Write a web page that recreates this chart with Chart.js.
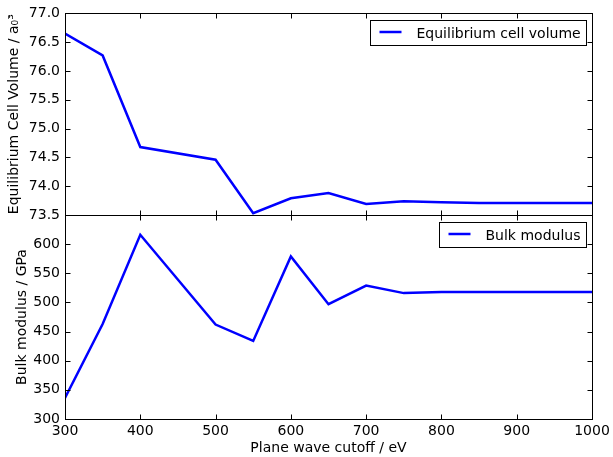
<!DOCTYPE html>
<html>
<head>
<meta charset="utf-8">
<script src="https://cdn.jsdelivr.net/npm/chart.js@4"></script>
<style>
  html, body { margin: 0; padding: 0; background: #fff; }
  #wrap { position: relative; width: 613px; height: 457px; overflow: hidden; }
  canvas { position: absolute; left: 0; }
  #volumeChart { top: 0; }
  #bulkChart { top: 200px; }
</style>
</head>
<body>
<div id="wrap">
  <canvas id="volumeChart" width="613" height="230"></canvas>
  <canvas id="bulkChart" width="613" height="257"></canvas>
</div>
<script>
// plane wave cutoff (eV)
var cutoffs = [300, 350, 400, 500, 550, 600, 650, 700, 750, 800, 850, 900, 950, 1000];
// equilibrium cell volume (a0^3)
var volume = [76.65, 76.27, 74.68, 74.46, 73.53, 73.79, 73.88, 73.69, 73.74, 73.72, 73.71, 73.71, 73.71, 73.71];
// bulk modulus (GPa)
var bulk = [336, 463, 616, 462, 434, 579, 497, 529, 516, 518, 518, 518, 518, 518];

var xTicks = [300, 400, 500, 600, 700, 800, 900, 1000];
var volumeTicks = [73.5, 74.0, 74.5, 75.0, 75.5, 76.0, 76.5, 77.0];
var bulkTicks = [300, 350, 400, 450, 500, 550, 600];

Chart.defaults.font.family = "'DejaVu Sans'";
Chart.defaults.font.size = 14;
Chart.defaults.color = "#000";

// box around the plot with inward ticks on all four sides
var frameTicks = {
    id: "frameTicks",
    afterDatasetsDraw: function (chart) {
        var ctx = chart.ctx, a = chart.chartArea;
        var xs = chart.scales.x, ys = chart.scales.y;
        var len = 5;
        var l = Math.round(a.left) + 0.5, r = Math.round(a.right) + 0.5;
        var t = Math.round(a.top) + 0.5, b = Math.round(a.bottom) + 0.5;
        ctx.save();
        ctx.strokeStyle = "#000";
        ctx.lineWidth = 1;
        ctx.beginPath();
        xs.ticks.forEach(function (tk) {
            var px = Math.round(xs.getPixelForValue(tk.value)) + 0.5;
            ctx.moveTo(px, b); ctx.lineTo(px, b - len);
            ctx.moveTo(px, t); ctx.lineTo(px, t + len);
        });
        ys.ticks.forEach(function (tk) {
            var py = Math.round(ys.getPixelForValue(tk.value)) + 0.5;
            ctx.moveTo(l, py); ctx.lineTo(l + len, py);
            ctx.moveTo(r, py); ctx.lineTo(r - len, py);
        });
        ctx.stroke();
        ctx.strokeRect(l, t, r - l, b - t);
        ctx.restore();
    }
};

// legend in a plain box at the top right of the plot
var boxLegend = {
    id: "boxLegend",
    afterDraw: function (chart) {
        var ctx = chart.ctx, a = chart.chartArea;
        var ds = chart.data.datasets[0];
        ctx.save();
        ctx.font = "14px 'DejaVu Sans'";
        var tw = ctx.measureText(ds.label).width;
        var w = 9 + 22 + 15 + tw + 6, h = 25;
        var right = Math.round(a.right) - 6 + 0.5;
        var top = Math.round(a.top) + 7 + 0.5;
        var left = right - Math.round(w);
        ctx.fillStyle = "#fff";
        ctx.fillRect(left, top, right - left, h);
        ctx.strokeStyle = "#000";
        ctx.lineWidth = 1;
        ctx.strokeRect(left, top, right - left, h);
        ctx.strokeStyle = ds.borderColor;
        ctx.lineWidth = ds.borderWidth;
        ctx.beginPath();
        ctx.moveTo(left + 9, top + h / 2 - 1);
        ctx.lineTo(left + 31, top + h / 2 - 1);
        ctx.stroke();
        ctx.fillStyle = "#000";
        ctx.textBaseline = "middle";
        ctx.fillText(ds.label, left + 46, top + h / 2 + 1);
        ctx.restore();
    }
};

function points(ys) {
    return cutoffs.map(function (c, i) { return { x: c, y: ys[i] }; });
}

function fixWidth(scale) { scale.width = 65; }

function fixHeight(h) {
    return function (scale) {
        scale.height = h;
        scale.paddingLeft = 0;
        scale.paddingRight = 0;
    };
}

var volumeChart = new Chart(document.getElementById("volumeChart"), {
    type: "line",
    data: {
        datasets: [{
            label: "Equilibrium cell volume",
            data: points(volume),
            borderColor: "#0000ff",
            borderWidth: 2.5,
            pointRadius: 0,
            tension: 0
        }]
    },
    options: {
        responsive: false,
        animation: false,
        devicePixelRatio: 1,
        layout: { padding: { top: 11, right: 21, bottom: 15, left: 0 } },
        plugins: { legend: { display: false }, tooltip: { enabled: false } },
        scales: {
            x: {
                type: "linear", min: 300, max: 1000,
                afterBuildTicks: function (s) { s.ticks = xTicks.map(function (v) { return { value: v }; }); },
                afterFit: fixHeight(0),
                ticks: { display: false },
                grid: { display: false, drawTicks: false },
                border: { display: false }
            },
            y: {
                min: 73.5, max: 77.0,
                afterBuildTicks: function (s) { s.ticks = volumeTicks.map(function (v) { return { value: v }; }); },
                afterFit: fixWidth,
                ticks: { padding: 5, callback: function (v) { return v.toFixed(1); } },
                grid: { display: false, drawTicks: false },
                border: { display: false },
                title: { display: true, text: "Equilibrium Cell Volume / a₀³", padding: { top: 6, bottom: 0 } }
            }
        }
    },
    plugins: [frameTicks, boxLegend]
});

var bulkChart = new Chart(document.getElementById("bulkChart"), {
    type: "line",
    data: {
        datasets: [{
            label: "Bulk modulus",
            data: points(bulk),
            borderColor: "#0000ff",
            borderWidth: 2.5,
            pointRadius: 0,
            tension: 0
        }]
    },
    options: {
        responsive: false,
        animation: false,
        devicePixelRatio: 1,
        layout: { padding: { top: 15, right: 21, bottom: 0, left: 0 } },
        plugins: { legend: { display: false }, tooltip: { enabled: false } },
        scales: {
            x: {
                type: "linear", min: 300, max: 1000,
                afterBuildTicks: function (s) { s.ticks = xTicks.map(function (v) { return { value: v }; }); },
                afterFit: fixHeight(38),
                ticks: { padding: 4, callback: function (v) { return String(v); } },
                grid: { display: false, drawTicks: false },
                border: { display: false },
                title: { display: true, text: "Plane wave cutoff / eV", padding: { top: 0, bottom: 0 } }
            },
            y: {
                min: 300, max: 650,
                afterBuildTicks: function (s) { s.ticks = bulkTicks.map(function (v) { return { value: v }; }); },
                afterFit: fixWidth,
                ticks: { padding: 5 },
                grid: { display: false, drawTicks: false },
                border: { display: false },
                title: { display: true, text: "Bulk modulus / GPa", padding: { top: 14, bottom: 0 } }
            }
        }
    },
    plugins: [frameTicks, boxLegend]
});
</script>
</body>
</html>
